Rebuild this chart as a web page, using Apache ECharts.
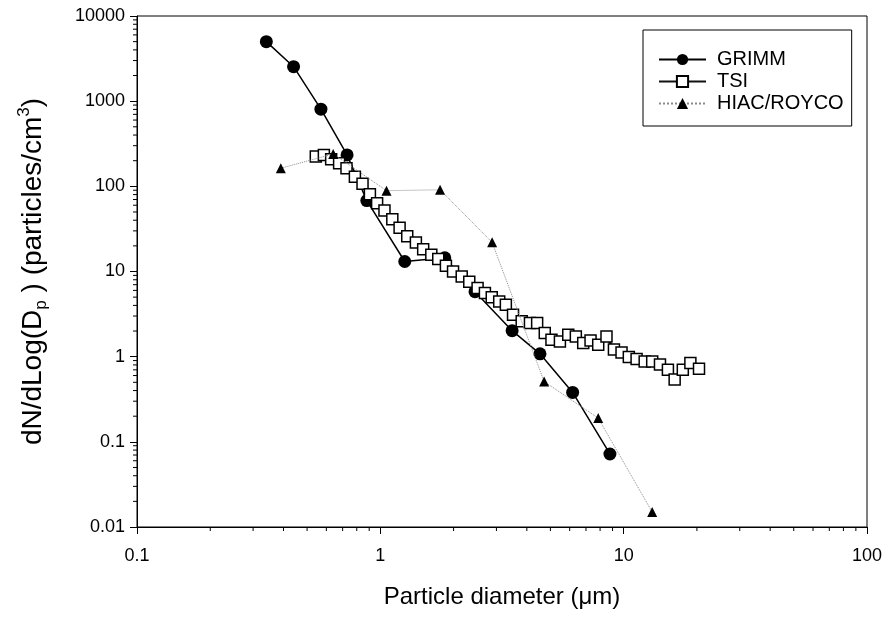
<!DOCTYPE html>
<html>
<head>
<meta charset="utf-8">
<script src="https://cdn.jsdelivr.net/npm/echarts@6/dist/echarts.min.js"></script>
<style>
  html, body { margin: 0; padding: 0; background: #fff; }
  #chart { width: 890px; height: 619px; }
</style>
</head>
<body>
<div id="chart"></div>
<script>
// GRIMM optical counter
const grimmX = [0.34, 0.44, 0.57, 0.73, 0.88, 1.26, 1.84, 2.45, 3.48, 4.53, 6.17, 8.78];
const grimmY = [5000, 2540, 805, 234, 68, 13.1, 14.5, 5.8, 2.02, 1.08, 0.38, 0.072];

// TSI (many channels)
const tsiX = [0.543, 0.586, 0.628, 0.677, 0.726, 0.786, 0.845, 0.906, 0.970, 1.04,
  1.12, 1.20, 1.29, 1.40, 1.50, 1.62, 1.73, 1.86, 1.99, 2.16,
  2.32, 2.51, 2.69, 2.87, 3.08, 3.28, 3.51, 3.81, 4.12, 4.41,
  4.74, 5.05, 5.47, 5.92, 6.36, 6.82, 7.31, 7.86, 8.50, 9.12,
  9.80, 10.5, 11.3, 12.2, 13.1, 14.1, 15.2, 16.2, 17.5, 18.8, 20.4];
const tsiY = [224, 234, 208, 187, 163, 130, 107, 81, 63.5, 52,
  41, 32.6, 26, 21.9, 18.3, 15.7, 14, 11.7, 10, 8.75,
  7.6, 6.4, 5.6, 5.0, 4.45, 4.07, 3.11, 2.60, 2.48, 2.48,
  1.90, 1.58, 1.51, 1.81, 1.73, 1.45, 1.55, 1.38, 1.73, 1.21,
  1.12, 0.99, 0.94, 0.88, 0.88, 0.81, 0.70, 0.54, 0.70, 0.84, 0.72];

// HIAC/ROYCO
const hiacX = [0.39, 0.64, 1.06, 1.76, 2.88, 4.71, 7.86, 13.1];
const hiacY = [163, 240, 89, 91, 22, 0.51, 0.19, 0.015];

const xTickValues = [0.1, 1, 10, 100];
const xTickLabels = ['0.1', '1', '10', '100'];
const yTickValues = [0.01, 0.1, 1, 10, 100, 1000, 10000];
const yTickLabels = ['0.01', '0.1', '1', '10', '100', '1000', '10000'];

const FONT = '"Liberation Sans", Arial, sans-serif';

function pair(xs, ys) { return xs.map((x, i) => [x, ys[i]]); }
function labelFor(values, labels) {
  return (v) => {
    let best = 0;
    values.forEach((t, i) => {
      if (Math.abs(Math.log10(t) - Math.log10(v)) < Math.abs(Math.log10(values[best]) - Math.log10(v))) best = i;
    });
    return labels[best];
  };
}
// log minor ticks at 2..9 of each decade
function minorTicks(values) {
  const out = [];
  for (let i = 0; i < values.length - 1; i++) {
    for (let k = 2; k <= 9; k++) out.push(values[i] * k);
  }
  return out;
}

const chart = echarts.init(document.getElementById('chart'), null, { renderer: 'canvas' });

const option = {
  animation: false,
  textStyle: { fontFamily: FONT },
  grid: {
    left: 137, right: 23, top: 16, bottom: 92,
    show: true, borderColor: '#000', borderWidth: 1, backgroundColor: 'transparent'
  },
  legend: {
    orient: 'vertical',
    left: 643, top: 30,
    backgroundColor: '#fff',
    borderColor: '#000', borderWidth: 1,
    padding: [19, 8, 12, 15],
    itemWidth: 47, itemHeight: 14, itemGap: 1,
    textStyle: { fontFamily: FONT, fontSize: 20, lineHeight: 21, color: '#000', padding: [0, 0, 0, 6] },
    data: ['GRIMM', 'TSI', 'HIAC/ROYCO']
  },
  xAxis: {
    type: 'log', logBase: 10, min: 0.1, max: 100,
    name: 'Particle diameter (\u03bcm)',
    nameLocation: 'middle', nameGap: 56,
    nameTextStyle: { fontFamily: FONT, fontSize: 24, lineHeight: 28, color: '#000' },
    axisLine: { lineStyle: { color: '#000', width: 1 } },
    axisTick: { inside: false, length: 7, lineStyle: { color: '#000' } },
    axisLabel: { fontFamily: FONT, fontSize: 18, color: '#000', margin: 20,
      formatter: labelFor(xTickValues, xTickLabels) },
    splitLine: { show: false }
  },
  yAxis: {
    type: 'log', logBase: 10, min: 0.01, max: 10000,
    name: '{b|dN/dLog(D}{sub|p}{b| ) (particles/cm}{sup|3}{b|)}',
    nameLocation: 'middle', nameGap: 87,
    nameTextStyle: {
      fontFamily: FONT, fontSize: 28, color: '#000', lineHeight: 34,
      rich: {
        b: { fontFamily: FONT, fontSize: 28, color: '#000', lineHeight: 34, verticalAlign: 'middle' },
        sub: { fontFamily: FONT, fontSize: 17, color: '#000', verticalAlign: 'bottom', lineHeight: 10 },
        sup: { fontFamily: FONT, fontSize: 17, color: '#000', verticalAlign: 'top', lineHeight: 14 }
      }
    },
    axisLine: { lineStyle: { color: '#000', width: 1 } },
    axisTick: { inside: false, length: 7, lineStyle: { color: '#000' } },
    axisLabel: { fontFamily: FONT, fontSize: 18, color: '#000', margin: 12,
      formatter: labelFor(yTickValues, yTickLabels) },
    splitLine: { show: false }
  },
  series: [
    {
      name: 'GRIMM', type: 'line', data: pair(grimmX, grimmY),
      symbol: 'circle', symbolSize: 13, showAllSymbol: true, z: 2,
      lineStyle: { color: '#000', width: 1.5 },
      itemStyle: { color: '#000' }
    },
    {
      name: 'TSI', type: 'line', data: pair(tsiX, tsiY),
      symbol: 'rect', symbolSize: 11, showAllSymbol: true, z: 3,
      lineStyle: { color: '#111', width: 2.5 },
      itemStyle: { color: '#fff', borderColor: '#000', borderWidth: 1.5 }
    },
    {
      name: 'HIAC/ROYCO', type: 'line', data: pair(hiacX, hiacY),
      symbol: 'triangle', symbolSize: 10, showAllSymbol: true, z: 4,
      lineStyle: { color: '#8a8a8a', width: 1, type: 'dotted' },
      itemStyle: { color: '#000' }
    },
    {
      // minor ticks on the x axis
      type: 'custom', silent: true, z: 1,
      data: minorTicks(xTickValues).map(v => [v, 0.01]),
      renderItem: (params, api) => {
        const p = api.coord([api.value(0), api.value(1)]);
        return { type: 'line', shape: { x1: p[0], y1: p[1], x2: p[0], y2: p[1] + 4 },
          style: { stroke: '#000', lineWidth: 1 } };
      }
    },
    {
      // minor ticks on the y axis
      type: 'custom', silent: true, z: 1,
      data: minorTicks(yTickValues).map(v => [0.1, v]),
      renderItem: (params, api) => {
        const p = api.coord([api.value(0), api.value(1)]);
        return { type: 'line', shape: { x1: p[0] - 4, y1: p[1], x2: p[0], y2: p[1] },
          style: { stroke: '#000', lineWidth: 1 } };
      }
    }
  ]
};

chart.setOption(option);
</script>
</body>
</html>
